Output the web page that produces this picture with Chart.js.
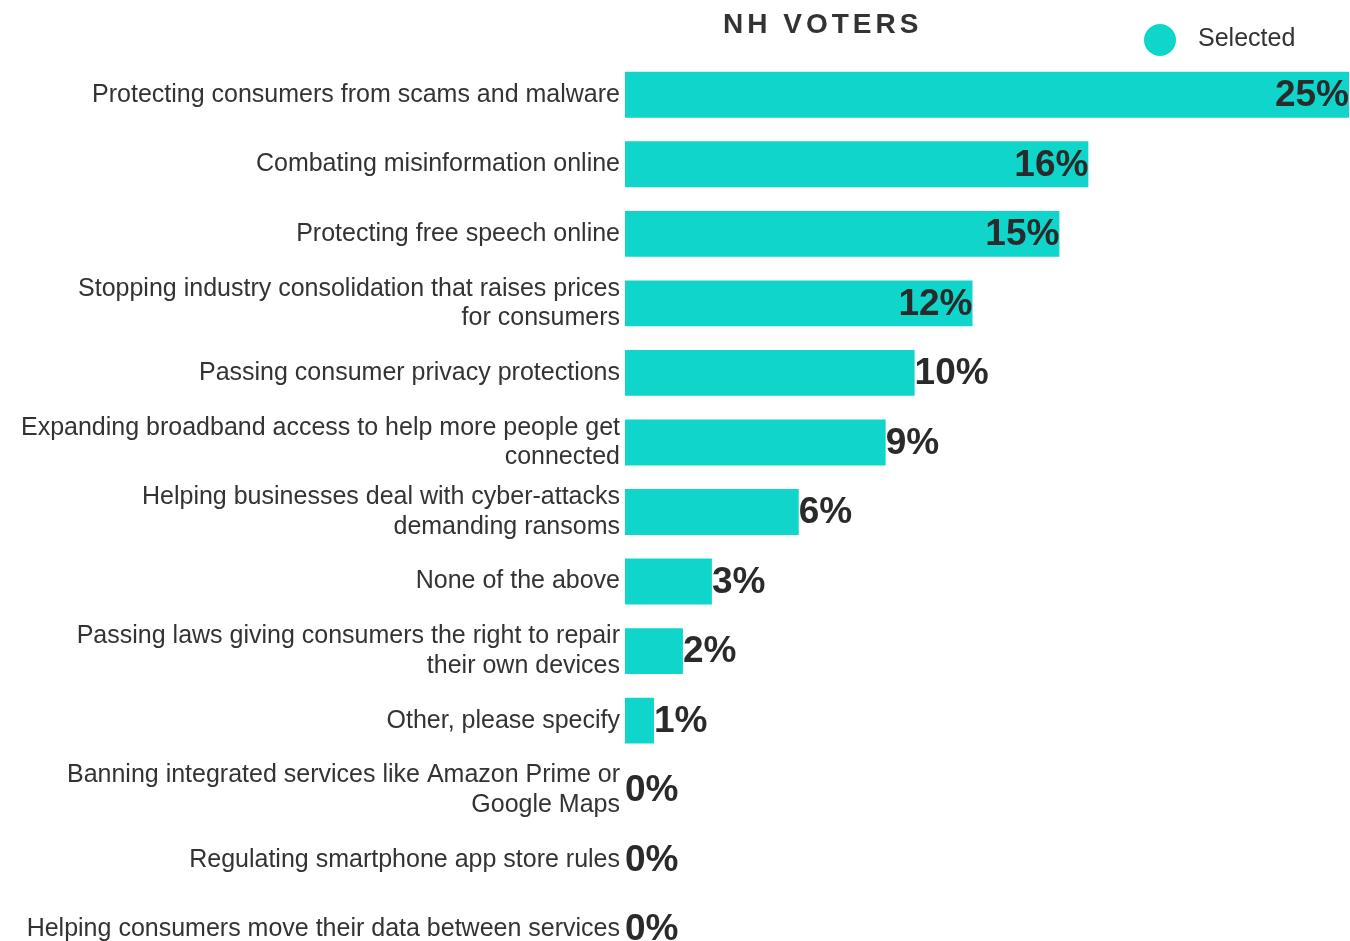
<!DOCTYPE html>
<html>
<head>
<meta charset="utf-8">
<script src="https://cdn.jsdelivr.net/npm/chart.js@4/dist/chart.umd.min.js"></script>
<style>
  html, body { margin: 0; padding: 0; background: #fff; overflow: hidden; }
  #barChart { display: block; }
</style>
</head>
<body>
<canvas id="barChart" width="1350" height="984"></canvas>
<script>
const categories = [
  "Protecting consumers from scams and malware",
  "Combating misinformation online",
  "Protecting free speech online",
  ["Stopping industry consolidation that raises prices", "for consumers"],
  "Passing consumer privacy protections",
  ["Expanding broadband access to help more people get", "connected"],
  ["Helping businesses deal with cyber-attacks", "demanding ransoms"],
  "None of the above",
  ["Passing laws giving consumers the right to repair", "their own devices"],
  "Other, please specify",
  ["Banning integrated services like Amazon Prime or", "Google Maps"],
  "Regulating smartphone app store rules",
  "Helping consumers move their data between services"
];
const selected = [25, 16, 15, 12, 10, 9, 6, 3, 2, 1, 0, 0, 0];
const seriesName = "Selected";
const chartTitle = "NH VOTERS";

const barColor = "#10d5cb";
const textColor = "#333333";

// percentage labels at the end of each bar, inside for the long ones
const valueLabels = {
  id: "valueLabels",
  afterDatasetsDraw(chart) {
    const ctx = chart.ctx;
    const meta = chart.getDatasetMeta(0);
    ctx.save();
    ctx.font = "bold 37px 'Liberation Sans', Arial, sans-serif";
    ctx.fillStyle = "#2a2a2a";
    ctx.textBaseline = "middle";
    meta.data.forEach((bar, i) => {
      const v = selected[i];
      ctx.textAlign = v > 10 ? "right" : "left";
      ctx.fillText(v + "%", bar.x, bar.y + 1);
    });
    ctx.restore();
  }
};

// title and legend at the top
const header = {
  id: "header",
  afterDraw(chart) {
    const ctx = chart.ctx;
    ctx.save();
    ctx.fillStyle = textColor;
    ctx.font = "bold 28px 'Liberation Sans', Arial, sans-serif";
    ctx.letterSpacing = "4px";
    ctx.textAlign = "left";
    ctx.textBaseline = "alphabetic";
    ctx.fillText(chartTitle, 723, 33);
    ctx.letterSpacing = "0px";

    ctx.beginPath();
    ctx.arc(1160, 40, 16, 0, Math.PI * 2);
    ctx.fillStyle = barColor;
    ctx.fill();
    ctx.fillStyle = textColor;
    ctx.font = "25px 'Liberation Sans', Arial, sans-serif";
    ctx.textBaseline = "middle";
    ctx.fillText(seriesName, 1198, 39);
    ctx.restore();
  }
};

const ctx = document.getElementById("barChart").getContext("2d");
const barChart = new Chart(ctx, {
  type: "bar",
  data: {
    labels: categories,
    datasets: [
      {
        label: seriesName,
        data: selected,
        backgroundColor: barColor,
        borderWidth: 0,
        barPercentage: 0.66,
        categoryPercentage: 1
      }
    ]
  },
  options: {
    indexAxis: "y",
    responsive: false,
    animation: false,
    layout: {
      padding: { top: 60, bottom: 20, left: 0, right: 1 }
    },
    scales: {
      x: {
        display: false,
        min: 0,
        max: 25
      },
      y: {
        grid: { display: false, drawTicks: false },
        border: { display: false },
        afterFit: (scale) => { scale.width = 625; },
        ticks: {
          color: textColor,
          padding: 5,
          font: { family: "'Liberation Sans', Arial, sans-serif", size: 25, lineHeight: 1.18 }
        }
      }
    },
    plugins: {
      legend: { display: false },
      title: { display: false },
      tooltip: { enabled: false }
    }
  },
  plugins: [valueLabels, header]
});
</script>
</body>
</html>
